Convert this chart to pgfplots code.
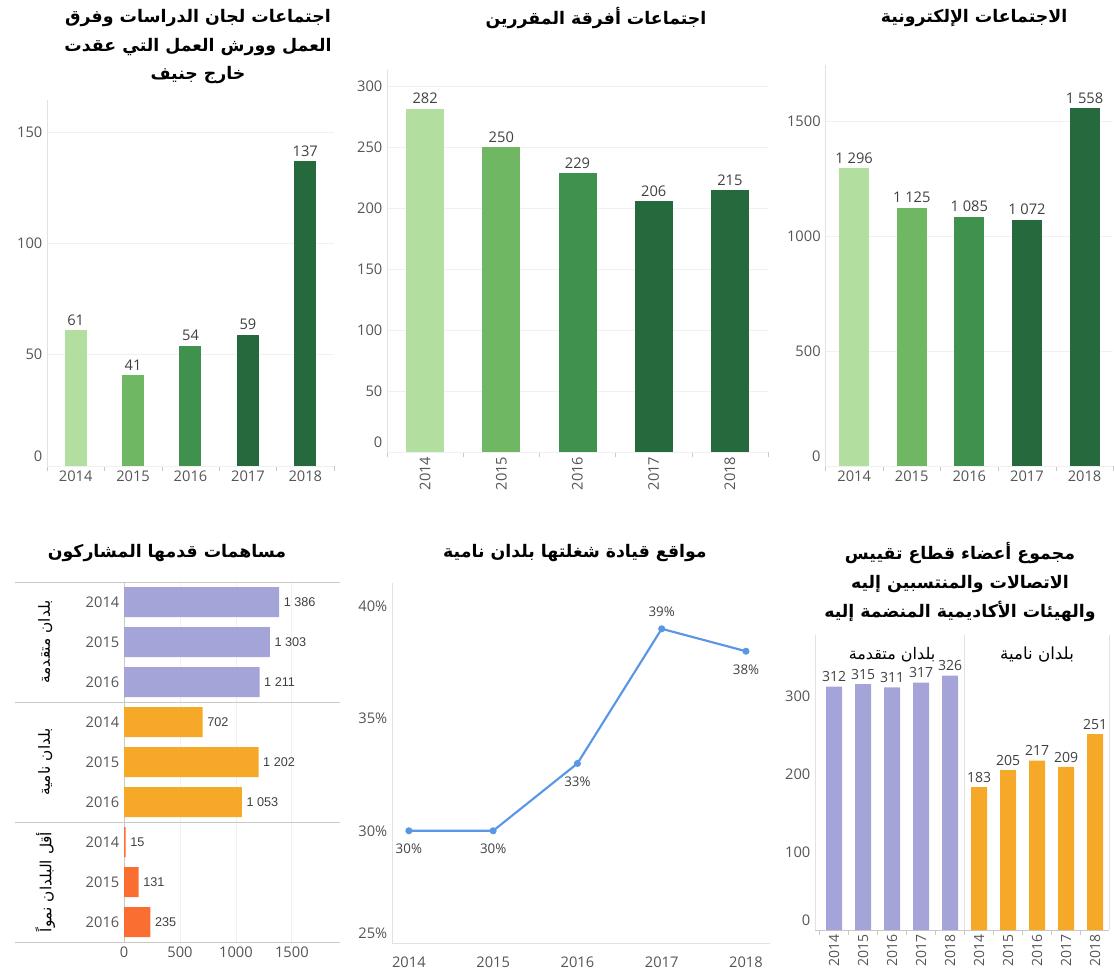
\documentclass[border=0pt]{standalone}
\usepackage{pgfplots}
\pgfplotsset{compat=1.18}
\usepackage{fontspec}
\setmainfont{Open Sans}
\newfontfamily\arabicfont[Script=Arabic]{DejaVu Sans}
\newfontfamily\arialfont{Liberation Sans}
\TeXXeTstate=1
\definecolor{g1}{HTML}{B2DEA0}
\definecolor{g2}{HTML}{70B763}
\definecolor{g3}{HTML}{41914E}
\definecolor{g4}{HTML}{25693D}
\definecolor{purp}{HTML}{A4A4D8}
\definecolor{orng}{HTML}{F6A828}
\definecolor{redo}{HTML}{FA6E32}
\definecolor{lineblue}{HTML}{5A96E6}
\definecolor{tickgray}{HTML}{555555}
\definecolor{labgray}{HTML}{404040}
\definecolor{axisgray}{HTML}{C8C8C8}
\definecolor{lightaxis}{HTML}{E2E2E2}
\definecolor{gridgray}{HTML}{F0F0F0}
\pgfplotsset{
  base/.style={
    scale only axis, anchor=south west, clip=false,
    axis line style={-},
    tick label style={font=\fontsize{11}{13}\selectfont, text=tickgray},
    /pgf/number format/assume math mode=true,
    /pgf/number format/1000 sep={},
    grid style={draw=gridgray, line width=0.6pt},
    major tick length=0pt, minor tick length=4pt, tick align=outside,
    minor tick style={draw=axisgray},
    every node near coord/.append style={font=\fontsize{11}{13}\selectfont, text=labgray},
  },
}
\tikzset{ttl/.style={font=\arabicfont\bfseries\fontsize{13}{21.5}\selectfont, align=center}}
\begin{document}
\begin{tikzpicture}
\useasboundingbox (0,0) rectangle (835.5pt,-734.25pt);

% ---------- Panel 1 ----------
\begin{axis}[base,
  at={(35.25pt,-349.5pt)}, width=215.25pt, height=274.5pt,
  xmin=-0.5, xmax=4.5, ymin=0, ymax=164.4,
  axis x line*=bottom, axis y line*=left,
  x axis line style={draw=axisgray}, y axis line style={draw=lightaxis},
  xtick={0,1,2,3,4}, xticklabels={2014,2015,2016,2017,2018},
  minor xtick={-0.5,0.5,1.5,2.5,3.5,4.5},
  ytick={50,100,150}, extra y ticks={0}, extra y tick style={yticklabel style={yshift=7pt}},
  ymajorgrids, bar width=16.5pt, nodes near coords]
\addplot[ybar, fill=g1, draw=none] coordinates {(0,61)};
\addplot[ybar, fill=g2, draw=none] coordinates {(1,41)};
\addplot[ybar, fill=g3, draw=none] coordinates {(2,54)};
\addplot[ybar, fill=g4, draw=none] coordinates {(3,59)};
\addplot[ybar, fill=g4, draw=none] coordinates {(4,137)};
\end{axis}

% ---------- Panel 2 ----------
\begin{axis}[base,
  at={(290.25pt,-339pt)}, width=285.75pt, height=286.5pt,
  xmin=-0.5, xmax=4.5, ymin=0, ymax=313.6,
  axis x line*=bottom, axis y line*=left,
  x axis line style={draw=axisgray}, y axis line style={draw=lightaxis},
  xtick={0,1,2,3,4}, xticklabels={2014,2015,2016,2017,2018},
  xticklabel style={rotate=90, anchor=east},
  minor xtick={-0.5,0.5,1.5,2.5,3.5,4.5},
  ytick={50,100,150,200,250,300}, extra y ticks={0}, extra y tick style={yticklabel style={yshift=7pt}},
  ymajorgrids, bar width=28.5pt, nodes near coords]
\addplot[ybar, fill=g1, draw=none] coordinates {(0,282)};
\addplot[ybar, fill=g2, draw=none] coordinates {(1,250)};
\addplot[ybar, fill=g3, draw=none] coordinates {(2,229)};
\addplot[ybar, fill=g4, draw=none] coordinates {(3,206)};
\addplot[ybar, fill=g4, draw=none] coordinates {(4,215)};
\end{axis}

% ---------- Panel 3 ----------
\begin{axis}[base,
  at={(619pt,-349.5pt)}, width=216pt, height=300.75pt,
  xmin=-0.5, xmax=4.5, ymin=0, ymax=1746,
  axis x line*=bottom, axis y line*=left,
  x axis line style={draw=axisgray}, y axis line style={draw=lightaxis},
  xtick={0,1,2,3,4}, xticklabels={2014,2015,2016,2017,2018},
  minor xtick={-0.5,0.5,1.5,2.5,3.5,4.5},
  ytick={500,1000,1500}, extra y ticks={0}, extra y tick style={yticklabel style={yshift=7pt}},
  ymajorgrids, bar width=22.5pt,
  nodes near coords={\pgfmathprintnumber[1000 sep={\ }]{\pgfplotspointmeta}}]
\addplot[ybar, fill=g1, draw=none] coordinates {(0,1296)};
\addplot[ybar, fill=g2, draw=none] coordinates {(1,1125)};
\addplot[ybar, fill=g3, draw=none] coordinates {(2,1085)};
\addplot[ybar, fill=g4, draw=none] coordinates {(3,1072)};
\addplot[ybar, fill=g4, draw=none] coordinates {(4,1558)};
\end{axis}

% ---------- Panel 4 ----------
\begin{axis}[base,
  at={(93pt,-706.5pt)}, width=162pt, height=270pt,
  xmin=0, xmax=1930, ymin=-0.5, ymax=8.5,
  axis x line*=bottom, axis y line*=left,
  x axis line style={draw=none}, y axis line style={draw=axisgray},
  xtick={0,500,1000,1500}, xmajorgrids,
  ytick={0,1,2,3,4,5,6,7,8},
  yticklabels={2016,2015,2014,2016,2015,2014,2016,2015,2014},
  bar width=22.5pt, point meta=x,
  nodes near coords={\pgfmathprintnumber[1000 sep={\ }]{\pgfplotspointmeta}},
  nodes near coords align=horizontal,
  every node near coord/.append style={font=\arialfont\fontsize{9.5}{11}\selectfont, text=labgray}]
\addplot[xbar, fill=purp, draw=none] coordinates {(1386,8) (1303,7) (1211,6)};
\addplot[xbar, fill=orng, draw=none] coordinates {(702,5) (1202,4) (1053,3)};
\addplot[xbar, fill=redo, draw=none] coordinates {(15,2) (131,1) (235,0)};
\end{axis}
\foreach \yy in {-436.5,-526.5,-616.5,-706.5}{
  \draw[axisgray, line width=0.6pt] (11.25pt,\yy pt) -- (255pt,\yy pt);
}
\node[font=\arabicfont\fontsize{11.5}{13}\selectfont, rotate=90] at (34pt,-481.5pt) {\beginR بلدان متقدمة\endR};
\node[font=\arabicfont\fontsize{11.5}{13}\selectfont, rotate=90] at (34pt,-571.5pt) {\beginR بلدان نامية\endR};
\node[font=\arabicfont\fontsize{11.5}{13}\selectfont, rotate=90] at (34pt,-661.5pt) {\beginR أقل البلدان نمواً\endR};

% ---------- Panel 5 ----------
\begin{axis}[base,
  at={(294pt,-707.25pt)}, width=283.5pt, height=270pt,
  xmin=2013.8, xmax=2018.285, ymin=25, ymax=41.04,
  axis x line*=bottom, axis y line*=left,
  x axis line style={draw=lightaxis}, y axis line style={draw=lightaxis},
  xtick={2014,2015,2016,2017,2018}, xticklabels={2014,2015,2016,2017,2018},
  xticklabel style={yshift=-7pt},
  ytick={30,35,40}, yticklabels={30\%,35\%,40\%},
  extra y ticks={25}, extra y tick labels={25\%}, extra y tick style={yticklabel style={yshift=7pt}}]
\addplot[lineblue, line width=1.6pt, mark=*, mark size=1.8pt, mark options={fill=lineblue, draw=lineblue}]
  coordinates {(2014,30) (2015,30) (2016,33) (2017,39) (2018,38)};
\addplot[draw=none, mark=none, nodes near coords={\pgfmathprintnumber{\pgfplotspointmeta}\%},
  every node near coord/.append style={anchor=center, yshift=-13.5pt, font=\fontsize{10}{12}\selectfont}]
  coordinates {(2014,30) (2015,30) (2016,33) (2018,38)};
\addplot[draw=none, mark=none, nodes near coords={\pgfmathprintnumber{\pgfplotspointmeta}\%},
  every node near coord/.append style={anchor=center, yshift=12.5pt, font=\fontsize{10}{12}\selectfont}]
  coordinates {(2017,39)};
\end{axis}

% ---------- Panel 6 ----------
\begin{axis}[base,
  at={(611.25pt,-697.5pt)}, width=220.5pt, height=221.25pt,
  xmin=-0.655, xmax=9.48, ymin=0, ymax=378,
  axis x line*=bottom, axis y line*=left,
  x axis line style={draw=axisgray}, y axis line style={draw=lightaxis},
  xtick={0,...,9}, xticklabels={2014,2015,2016,2017,2018,2014,2015,2016,2017,2018},
  xticklabel style={rotate=90, anchor=east, font=\fontsize{10.5}{12}\selectfont},
  minor xtick={-0.5,0.5,1.5,2.5,3.5,4.5,5.5,6.5,7.5,8.5,9.5},
  ytick={100,200,300}, extra y ticks={0}, extra y tick style={yticklabel style={yshift=7pt}},
  bar width=12pt, nodes near coords,
  every node near coord/.append style={font=\fontsize{10.5}{12}\selectfont}]
\addplot[ybar, fill=purp, draw=none] coordinates {(0,312) (1,315) (2,311) (3,317) (4,326)};
\addplot[ybar, fill=orng, draw=none] coordinates {(5,183) (6,205) (7,217) (8,209) (9,251)};
\draw[lightaxis, line width=0.6pt] (axis cs:4.5,0) -- (axis cs:4.5,378);
\draw[lightaxis, line width=0.6pt] (axis cs:9.48,0) -- (axis cs:9.48,378);
\node[font=\arabicfont\fontsize{12}{14}\selectfont] at (axis cs:2,353) {\beginR بلدان متقدمة\endR};
\node[font=\arabicfont\fontsize{12.5}{14}\selectfont] at (axis cs:7,353) {\beginR بلدان نامية\endR};
\end{axis}

% ---------- Titles ----------
\node[ttl] at (148.5pt,-35pt) {\beginR اجتماعات لجان الدراسات وفرق\endR\\ \beginR العمل وورش العمل التي عقدت\endR\\ \beginR خارج جنيف\endR};
\node[ttl] at (447pt,-13.5pt) {\beginR اجتماعات أفرقة المقررين\endR};
\node[ttl] at (730.5pt,-13.5pt) {\beginR الاجتماعات الإلكترونية\endR};
\node[ttl] at (125.25pt,-414.75pt) {\beginR مساهمات قدمها المشاركون\endR};
\node[ttl] at (431.25pt,-414.75pt) {\beginR مواقع قيادة شغلتها بلدان نامية\endR};
\node[ttl] at (720pt,-436.5pt) {\beginR مجموع أعضاء قطاع تقييس\endR\\ \beginR الاتصالات والمنتسبين إليه\endR\\ \beginR والهيئات الأكاديمية المنضمة إليه\endR};
\end{tikzpicture}
\end{document}
